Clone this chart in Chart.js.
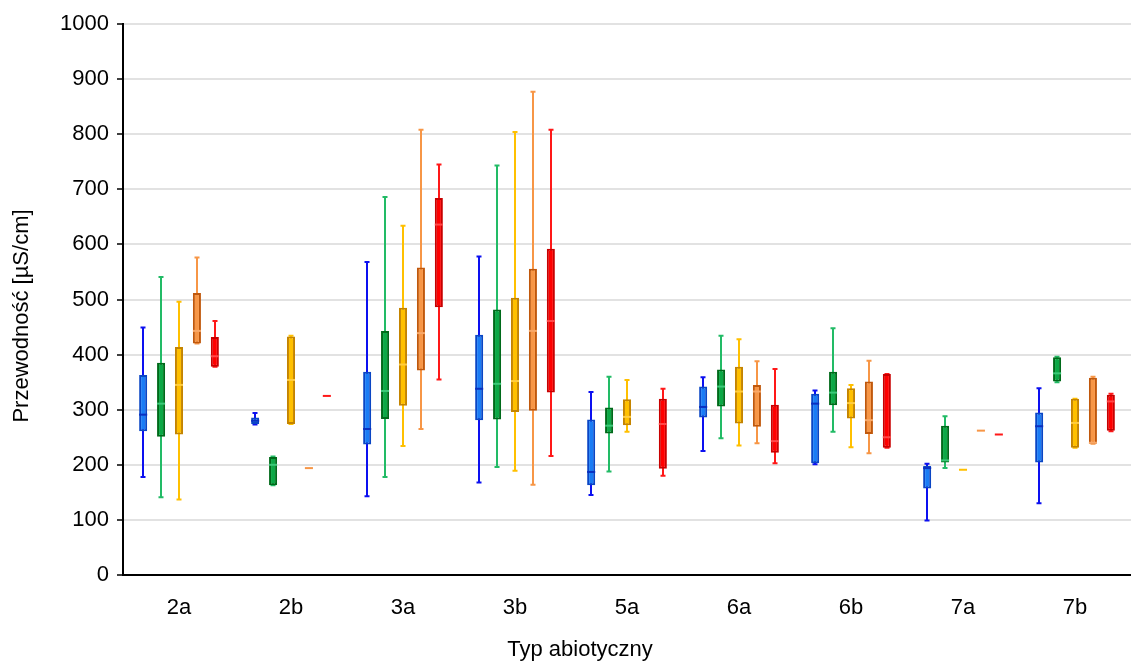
<!DOCTYPE html>
<html>
<head>
<meta charset="utf-8">
<script src="https://cdn.jsdelivr.net/npm/chart.js@4.4.1/dist/chart.umd.min.js"></script>
<style>
  html, body { margin: 0; padding: 0; background: #fff; }
  #wrap { width: 1131px; height: 662px; position: relative; }
</style>
</head>
<body>
<div id="wrap"><canvas id="boxChart"></canvas></div>
<script>
// abiotic types on the x axis
const categories = ["2a", "2b", "3a", "3b", "5a", "6a", "6b", "7a", "7b"];
const yTicks = [0, 100, 200, 300, 400, 500, 600, 700, 800, 900, 1000];
const xTitle = "Typ abiotyczny";
const yTitle = "Przewodność [µS/cm]";

// per category: [min, q1, median, q3, max] in µS/cm
const blueStats = [
  [178, 261, 291, 363, 449],
  [273, 274, 280, 286, 294],
  [143, 237, 265, 369, 568],
  [168, 281, 338, 436, 578],
  [145, 163, 187, 282, 332],
  [225, 286, 305, 342, 359],
  [201, 203, 311, 329, 335],
  [99, 157, 194, 198, 202],
  [130, 204, 270, 295, 339],
];
const greenStats = [
  [141, 251, 311, 385, 541],
  [163, 163, 200, 214, 215],
  [178, 283, 334, 443, 686],
  [196, 282, 347, 482, 743],
  [188, 257, 271, 304, 360],
  [248, 306, 342, 373, 434],
  [260, 308, 331, 369, 448],
  [194, 204, 208, 271, 288],
  [350, 351, 366, 395, 396],
];
const yellowStats = [
  [137, 255, 345, 414, 496],
  [274, 274, 354, 433, 434],
  [234, 307, 382, 485, 634],
  [189, 296, 352, 503, 804],
  [260, 272, 287, 319, 354],
  [235, 275, 333, 378, 428],
  [232, 284, 312, 339, 345],
  [191, 191, 191, 191, 191],
  [231, 231, 276, 320, 320],
];
const orangeStats = [
  [420, 420, 443, 512, 576],
  [194, 194, 194, 194, 194],
  [265, 371, 439, 558, 808],
  [164, 298, 443, 556, 877],
  null,
  [239, 269, 333, 345, 388],
  [221, 256, 281, 351, 389],
  [262, 262, 262, 262, 262],
  [238, 238, 240, 358, 360],
];
const redStats = [
  [378, 378, 397, 432, 461],
  [325, 325, 325, 325, 325],
  [355, 486, 636, 684, 745],
  [216, 331, 461, 592, 808],
  [180, 193, 274, 320, 338],
  [203, 222, 243, 309, 374],
  [231, 231, 250, 365, 365],
  [255, 255, 255, 255, 255],
  [261, 262, 315, 327, 329],
];

const series = [
  { name: "1", stats: blueStats,   fill: "#1a7cf5", border: "#0a46c4", whisker: "#0c10f0", median: "#0a2fc0" },
  { name: "2", stats: greenStats,  fill: "#0ca846", border: "#006a1a", whisker: "#22bb66", median: "#3cc878" },
  { name: "3", stats: yellowStats, fill: "#ffc000", border: "#c48400", whisker: "#ffc000", median: "#ffcc40" },
  { name: "4", stats: orangeStats, fill: "#f79646", border: "#c0580c", whisker: "#f79646", median: "#f8a868" },
  { name: "5", stats: redStats,    fill: "#ff0000", border: "#c80000", whisker: "#ff1818", median: "#ff4848" },
];

const FONT = "'Liberation Sans', Arial, sans-serif";
const FONT_SIZE = 22;

// whiskers go under the boxes, medians on top of them
const boxWhiskers = {
  id: "boxWhiskers",
  beforeDatasetsDraw(chart) {
    const ctx = chart.ctx;
    const y = chart.scales.y;
    ctx.save();
    series.forEach((s, di) => {
      const meta = chart.getDatasetMeta(di);
      s.stats.forEach((st, i) => {
        if (!st || st[0] === st[4]) return;
        const x = Math.round(meta.data[i].x);
        const yMin = y.getPixelForValue(st[0]);
        const yMax = y.getPixelForValue(st[4]);
        ctx.strokeStyle = s.whisker;
        ctx.lineWidth = 2;
        ctx.beginPath();
        ctx.moveTo(x, yMin);
        ctx.lineTo(x, yMax);
        ctx.moveTo(x - 2.5, yMin);
        ctx.lineTo(x + 2.5, yMin);
        ctx.moveTo(x - 2.5, yMax);
        ctx.lineTo(x + 2.5, yMax);
        ctx.stroke();
      });
    });
    ctx.restore();
  },
  afterDatasetsDraw(chart) {
    const ctx = chart.ctx;
    const y = chart.scales.y;
    ctx.save();
    series.forEach((s, di) => {
      const meta = chart.getDatasetMeta(di);
      s.stats.forEach((st, i) => {
        if (!st) return;
        const bar = meta.data[i];
        const half = bar.width / 2;
        const yMed = y.getPixelForValue(st[2]);
        const flat = st[1] === st[3];
        ctx.strokeStyle = flat ? s.whisker : s.median;
        ctx.lineWidth = 2;
        ctx.beginPath();
        ctx.moveTo(bar.x - half, yMed);
        ctx.lineTo(bar.x + half, yMed);
        ctx.stroke();
      });
    });
    ctx.restore();
  },
};

// axis titles, placed by hand
const axisTitles = {
  id: "axisTitles",
  afterDraw(chart) {
    const ctx = chart.ctx;
    ctx.save();
    ctx.fillStyle = "#000";
    ctx.font = FONT_SIZE + "px " + FONT;
    ctx.textAlign = "center";
    ctx.textBaseline = "middle";
    ctx.fillText(xTitle, 580, 650);
    ctx.translate(22, 316);
    ctx.rotate(-Math.PI / 2);
    ctx.fillText(yTitle, 0, 0);
    ctx.restore();
  },
};

new Chart(document.getElementById("boxChart"), {
  type: "bar",
  data: {
    labels: categories,
    datasets: series.map((s) => ({
      label: s.name,
      data: s.stats.map((st) => (st ? [st[1], st[3]] : null)),
      backgroundColor: s.fill,
      borderColor: s.border,
      borderWidth: 2,
      borderSkipped: false,
      categoryPercentage: 0.8,
      barPercentage: 0.45,
    })),
  },
  options: {
    responsive: true,
    maintainAspectRatio: false,
    animation: false,
    layout: { padding: { top: 24, right: 0, left: 0, bottom: 0 } },
    plugins: {
      legend: { display: false },
      tooltip: { enabled: false },
    },
    scales: {
      x: {
        grid: { display: false, drawTicks: false },
        border: { display: true, color: "#000", width: 2 },
        ticks: { color: "#000", padding: 20, font: { family: FONT, size: FONT_SIZE } },
        afterFit(scale) { scale.height = 87; },
      },
      y: {
        min: 0,
        max: 1000,
        afterBuildTicks(scale) { scale.ticks = yTicks.map((v) => ({ value: v })); },
        grid: { color: "#e2e2e2", lineWidth: 2, tickColor: "#000", tickLength: 6, tickWidth: 1.5 },
        border: { display: true, color: "#000", width: 2 },
        ticks: {
          color: "#000",
          padding: 8,
          font: { family: FONT, size: FONT_SIZE },
          callback: (v) => String(v),
        },
        afterFit(scale) { scale.width = 123; },
      },
    },
  },
  plugins: [boxWhiskers, axisTitles],
});
</script>
</body>
</html>
